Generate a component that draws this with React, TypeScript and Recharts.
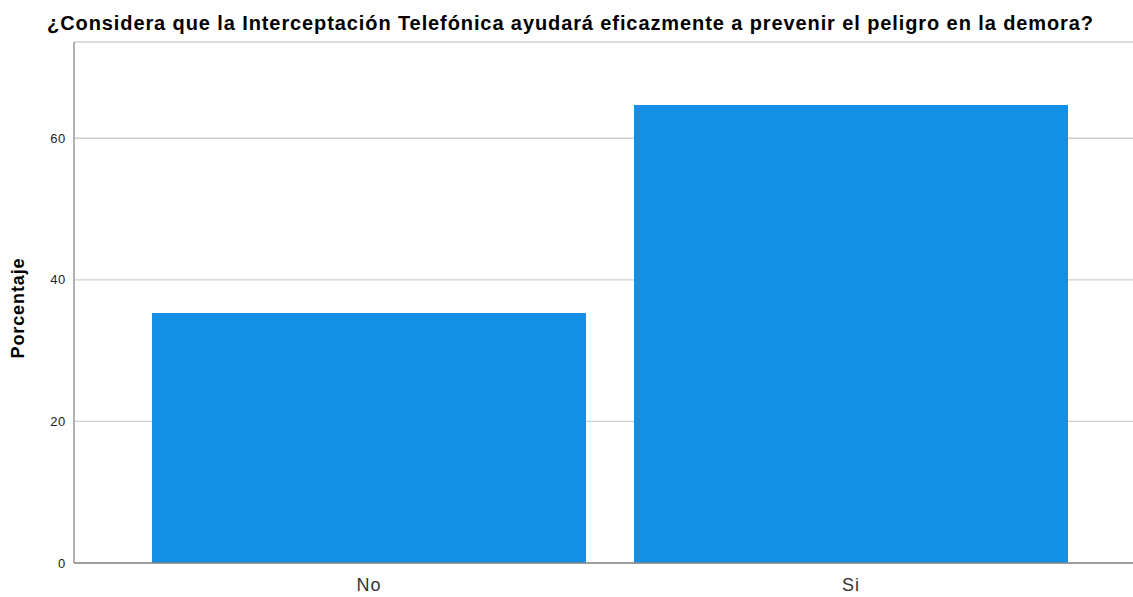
import React from "react";
import { BarChart, Bar, XAxis, YAxis, CartesianGrid } from "recharts";

const categories = ["No", "Si"];
const percentages = [35.3, 64.7];
const yTicks = [0, 20, 40, 60];
const title = "¿Considera que la Interceptación Telefónica ayudará eficazmente a prevenir el peligro en la demora?";
const yLabel = "Porcentaje";

const data = categories.map((c, i) => ({ name: c, value: percentages[i] }));

const FONT = "'Liberation Sans', Arial, sans-serif";

export default function App() {
  return (
    <div style={{ position: "absolute", left: 0, top: 0, width: 1133, height: 597, background: "#fff", fontFamily: FONT }}>
      <div
        style={{
          position: "absolute",
          left: 0,
          top: 11,
          width: 1141,
          textAlign: "center",
          fontSize: 20,
          fontWeight: "bold",
          letterSpacing: "0.9px",
          color: "#000",
          whiteSpace: "nowrap",
          lineHeight: "24px",
        }}
      >
        {title}
      </div>
      <BarChart
        width={1133}
        height={597}
        data={data}
        margin={{ top: 42, right: 0, left: 0, bottom: 0 }}
        barCategoryGap={24}
      >
        <CartesianGrid vertical={false} stroke="#cfcfcf" strokeWidth={1.3} />
        <XAxis
          dataKey="name"
          height={34}
          padding={{ left: 54, right: 41 }}
          tickLine={false}
          tickSize={0}
          tickMargin={15}
          axisLine={{ stroke: "#888", strokeWidth: 1.5 }}
          tick={{ fill: "#333", fontSize: 18, fontFamily: FONT, style: { letterSpacing: "0.9px" } }}
        />
        <YAxis
          width={74}
          domain={[0, 73.6]}
          ticks={yTicks}
          allowDataOverflow
          tickLine={false}
          tickSize={0}
          tickMargin={8}
          axisLine={{ stroke: "#999", strokeWidth: 1.5 }}
          tick={{ fill: "#222", fontSize: 13, fontFamily: FONT, style: { letterSpacing: "0.7px" } }}
          label={{
            content: () => (
              <text
                x={18}
                y={308}
                transform="rotate(-90 18 308)"
                textAnchor="middle"
                dominantBaseline="central"
                fontSize={18}
                fontWeight="bold"
                fontFamily={FONT}
                fill="#000"
                style={{ letterSpacing: "0.9px" }}
              >
                {yLabel}
              </text>
            ),
          }}
        />
        <Bar dataKey="value" fill="#1390e6" isAnimationActive={false} />
      </BarChart>
    </div>
  );
}
